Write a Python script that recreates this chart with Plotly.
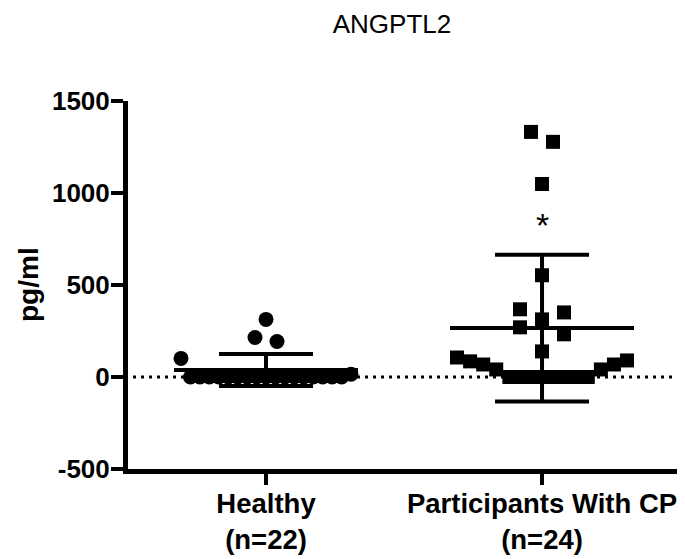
import numpy as np
import plotly.graph_objects as go

# ---------------- data ----------------
title_text = "ANGPTL2"
categories = ["Healthy<br>(n=22)", "Participants With CP<br>(n=24)"]
healthy_values = [0, 0, 0, 0, 0, 0, 0, 0, 0, 0, 0, 0, 0, 0, 0, 0, 0, 15,
                  101, 193, 215, 313]
cp_values = [0, 0, 0, 0, 0, 0, 0, 41, 41, 68, 68, 85, 90, 106, 139, 232,
             270, 313, 351, 368, 553, 1049, 1278, 1332]
y_ticks = [-500, 0, 500, 1000, 1500]
y_label = "pg/ml"
significance_mark = "*"

# ---------------- layout constants ----------------
# the page body has an 8px margin, so the figure is offset by 8px
OFF = 8
W, H = 685 - OFF, 559 - OFF
ML, MR, MT = 128 - OFF, 0, 101 - OFF
MB = H - (469 - OFF)
X_RANGE = [-0.5, 1.518]
Y_RANGE = [-500, 1500]
FONT = "Liberation Sans, Arial, sans-serif"

plot_w = W - ML - MR
plot_h = H - MT - MB
px_per_x = plot_w / (X_RANGE[1] - X_RANGE[0])
px_per_y = plot_h / (Y_RANGE[1] - Y_RANGE[0])


def row_offsets(values, bin_px=25.0, spacing_px=22.0, max_row_px=170.0):
    """Prism-like scatter: points whose values fall in the same vertical bin
    are spread in a centred row, smallest values nearest the centre; crowded
    rows are compressed to a maximum width."""
    vals = np.asarray(values, dtype=float)
    bins = np.floor(vals * px_per_y / bin_px).astype(int)
    offs = np.zeros(len(vals))
    for b in np.unique(bins):
        idx = np.where(bins == b)[0]
        idx = idx[np.argsort(vals[idx], kind="stable")]
        n = len(idx)
        sp = spacing_px if n < 2 else min(spacing_px, max_row_px / (n - 1))
        slots = (np.arange(n) - (n - 1) / 2.0) * sp
        slot_order = sorted(range(n), key=lambda j: (abs(slots[j]), -slots[j]))
        for i, j in zip(idx, slot_order):
            offs[i] = slots[j] / px_per_x
    return offs


groups = [
    (0, healthy_values, "circle", 15),
    (1, cp_values, "square", 14),
]

fig = go.Figure()
MEAN_HALF = 92 / px_per_x

for pos, vals, sym, msize in groups:
    arr = np.asarray(vals, dtype=float)
    mean = arr.mean()
    sd = arr.std(ddof=1)
    offs = row_offsets(arr)
    fig.add_trace(go.Scatter(
        x=[pos - MEAN_HALF, pos + MEAN_HALF], y=[mean, mean], mode="lines",
        line=dict(color="black", width=4), showlegend=False, hoverinfo="skip"))
    fig.add_trace(go.Scatter(
        x=[pos], y=[mean], mode="markers",
        marker=dict(size=1, color="black", opacity=0),
        error_y=dict(type="constant", value=sd, color="black", thickness=4, width=47),
        showlegend=False, hoverinfo="skip"))
    fig.add_trace(go.Scatter(
        x=pos + offs, y=arr, mode="markers",
        marker=dict(symbol=sym, size=msize, color="black", line=dict(width=0)),
        showlegend=False))

# significance asterisk over CP group
fig.add_annotation(x=1, y=858, xref="x", yref="y", text=significance_mark,
                   showarrow=False, font=dict(family=FONT, size=34, color="black"),
                   yanchor="middle", yshift=-6)

# dotted zero line
fig.add_shape(type="line", xref="paper", yref="y",
              x0=5 / plot_w, x1=(677 - 128) / plot_w, y0=0, y1=0,
              line=dict(color="black", width=3, dash="3px,5px"), layer="below")

# y axis title
fig.add_annotation(x=(28 - 128) / plot_w, y=0.5, xref="paper", yref="paper",
                   xanchor="center", yanchor="middle",
                   text="<b>%s</b>" % y_label, textangle=-90, showarrow=False,
                   font=dict(family=FONT, size=28, color="black"))

fig.update_layout(
    width=W, height=H,
    margin=dict(l=ML, r=MR, t=MT, b=MB, pad=0),
    paper_bgcolor="white", plot_bgcolor="white",
    title=dict(text=title_text, x=(392 - OFF) / W, xanchor="center", xref="container",
               y=1 - (24 - OFF) / H, yanchor="middle",
               font=dict(family=FONT, size=26, color="black")),
    xaxis=dict(range=X_RANGE, tickmode="array", tickvals=[0, 1],
               ticktext=["<b>%s</b>" % c for c in categories],
               showgrid=False, zeroline=False, showline=True, linecolor="black",
               linewidth=5, ticks="outside", ticklen=11, tickwidth=4, tickcolor="black",
               ticklabelstandoff=-5,
               tickfont=dict(family=FONT, size=27.5, color="black")),
    yaxis=dict(range=Y_RANGE, tickmode="array", tickvals=y_ticks,
               ticktext=["<b>%d</b>" % t for t in y_ticks],
               showgrid=False, zeroline=False, showline=True, linecolor="black",
               linewidth=5, ticks="outside", ticklen=12, tickwidth=4, tickcolor="black",
               ticklabelstandoff=-4,
               tickfont=dict(family=FONT, size=26, color="black")),
    showlegend=False,
)

fig.write_html("out.html")
